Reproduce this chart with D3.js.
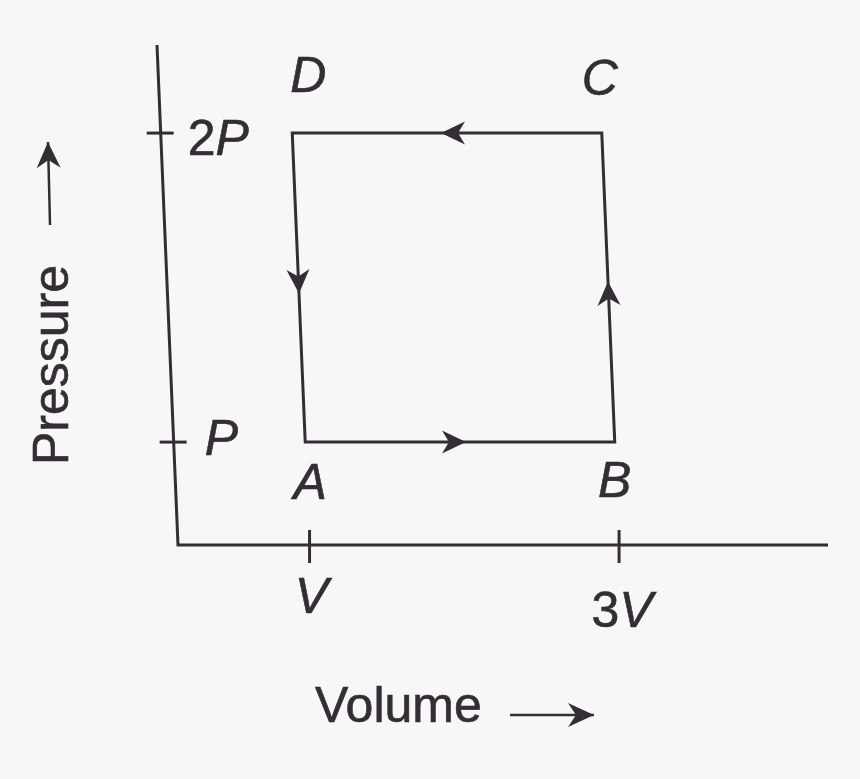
<!DOCTYPE html>
<html>
<head>
<meta charset="utf-8">
<script src="https://cdn.jsdelivr.net/npm/d3@7"></script>
<style>
  html, body { margin: 0; padding: 0; background: #f7f7f7; }
  svg { display: block; }
  text { font-family: "Liberation Sans", Arial, sans-serif; fill: #352d35; stroke: #352d35; stroke-width: 0.6; }
</style>
</head>
<body>
<div id="content"></div>
<script>
// cycle A -> B -> C -> D -> A (volume in units of V, pressure in units of P)
var states = ["A", "B", "C", "D"];
var volumes = [1, 3, 3, 1];
var pressures = [1, 1, 2, 2];

var volTicks = [1, 3];
var volTickLabels = [["", "V"], ["3", "V"]];
var presTicks = [1, 2];
var presTickLabels = [["", "P"], ["2", "P"]];

var width = 860, height = 779;
var ink = "#352d35";

var svg = d3.select("#content").append("svg")
    .attr("width", width)
    .attr("height", height);

svg.append("rect").attr("width", width).attr("height", height).attr("fill", "#f7f7f7");

// schematic axes: origin is not zero, just the frame of the sketch
var xs = d3.scaleLinear().domain([0.15, 4.35]).range([178, 828]);
var ys = d3.scaleLinear().domain([0.667, 2.285]).range([545, 45]);

// the printed figure leans a little, verticals tilt to the left going up
var shear = 0.042;
var y0 = ys.range()[0];
function pt(v, p) {
  var x = xs(v), y = ys(p);
  return [x + shear * (y - y0), y];
}

var vMin = xs.domain()[0], vMax = xs.domain()[1];
var pMin = ys.domain()[0], pMax = ys.domain()[1];

var g = svg.append("g");
var line = d3.line();

// axes
g.append("path")
  .attr("d", line([pt(vMin, pMax), pt(vMin, pMin), pt(vMax, pMin)]))
  .attr("fill", "none")
  .attr("stroke", ink)
  .attr("stroke-width", 3);

// pressure ticks cross the axis
presTicks.forEach(function(p, i) {
  var a = pt(vMin, p);
  g.append("line")
    .attr("x1", a[0] - 14).attr("x2", a[0] + 13)
    .attr("y1", a[1]).attr("y2", a[1])
    .attr("stroke", ink).attr("stroke-width", 3);
  var t = g.append("text")
    .attr("x", a[0] + (i === 0 ? 31 : 27))
    .attr("y", a[1] + (i === 0 ? 13 : 22))
    .attr("font-size", 50);
  t.append("tspan").text(presTickLabels[i][0]);
  t.append("tspan").attr("font-style", "italic").text(presTickLabels[i][1]);
});

// volume ticks
volTicks.forEach(function(v, i) {
  var a = pt(v, pMin);
  g.append("line")
    .attr("x1", a[0]).attr("x2", a[0])
    .attr("y1", a[1] - 15).attr("y2", a[1] + 18)
    .attr("stroke", ink).attr("stroke-width", 3);
  var t = g.append("text")
    .attr("x", a[0] + (i === 0 ? 2 : 3))
    .attr("y", a[1] + (i === 0 ? 68 : 82))
    .attr("text-anchor", "middle")
    .attr("font-size", 50);
  t.append("tspan").text(volTickLabels[i][0]);
  t.append("tspan").attr("font-style", "italic").text(volTickLabels[i][1]);
});

// the cycle
var corners = states.map(function(s, i) { return pt(volumes[i], pressures[i]); });
g.append("path")
  .attr("d", line(corners) + "Z")
  .attr("fill", "none")
  .attr("stroke", ink)
  .attr("stroke-width", 3)
  .attr("stroke-linejoin", "miter");

// arrowheads near the middle of each leg, pointing along the cycle
var head = "M0,0 L-24,-11.5 L-17,0 L-24,11.5 Z";
corners.forEach(function(c, i) {
  var n = corners[(i + 1) % corners.length];
  var dx = n[0] - c[0], dy = n[1] - c[1];
  var len = Math.sqrt(dx * dx + dy * dy);
  var ux = dx / len, uy = dy / len;
  var tip = [(c[0] + n[0]) / 2 + ux * 6, (c[1] + n[1]) / 2 + uy * 6];
  var ang = Math.atan2(dy, dx) * 180 / Math.PI;
  g.append("path")
    .attr("d", head)
    .attr("fill", ink)
    .attr("transform", "translate(" + tip[0] + "," + tip[1] + ") rotate(" + ang + ")");
});

// state labels
var labelOffset = { A: [5, 57], B: [0, 55], C: [-2, -38], D: [16, -41] };
states.forEach(function(s, i) {
  var c = corners[i];
  g.append("text")
    .attr("x", c[0] + labelOffset[s][0])
    .attr("y", c[1] + labelOffset[s][1])
    .attr("text-anchor", "middle")
    .attr("font-size", 50)
    .attr("font-style", "italic")
    .text(s);
});

// axis titles with their arrows
function arrow(x1, y1, x2, y2) {
  g.append("line")
    .attr("x1", x1).attr("y1", y1).attr("x2", x2).attr("y2", y2)
    .attr("stroke", ink).attr("stroke-width", 2.5);
  var ang = Math.atan2(y2 - y1, x2 - x1) * 180 / Math.PI;
  g.append("path")
    .attr("d", "M0,0 L-26,-12 L-18,0 L-26,12 Z")
    .attr("fill", ink)
    .attr("transform", "translate(" + x2 + "," + y2 + ") rotate(" + ang + ")");
}

g.append("text")
  .attr("x", 315).attr("y", 722)
  .attr("font-size", 50)
  .text("Volume");
arrow(510, 715, 594, 715);

g.append("text")
  .attr("transform", "translate(68,465) rotate(-90)")
  .attr("font-size", 50)
  .text("Pressure");
arrow(50, 225, 48, 142);
</script>
</body>
</html>
